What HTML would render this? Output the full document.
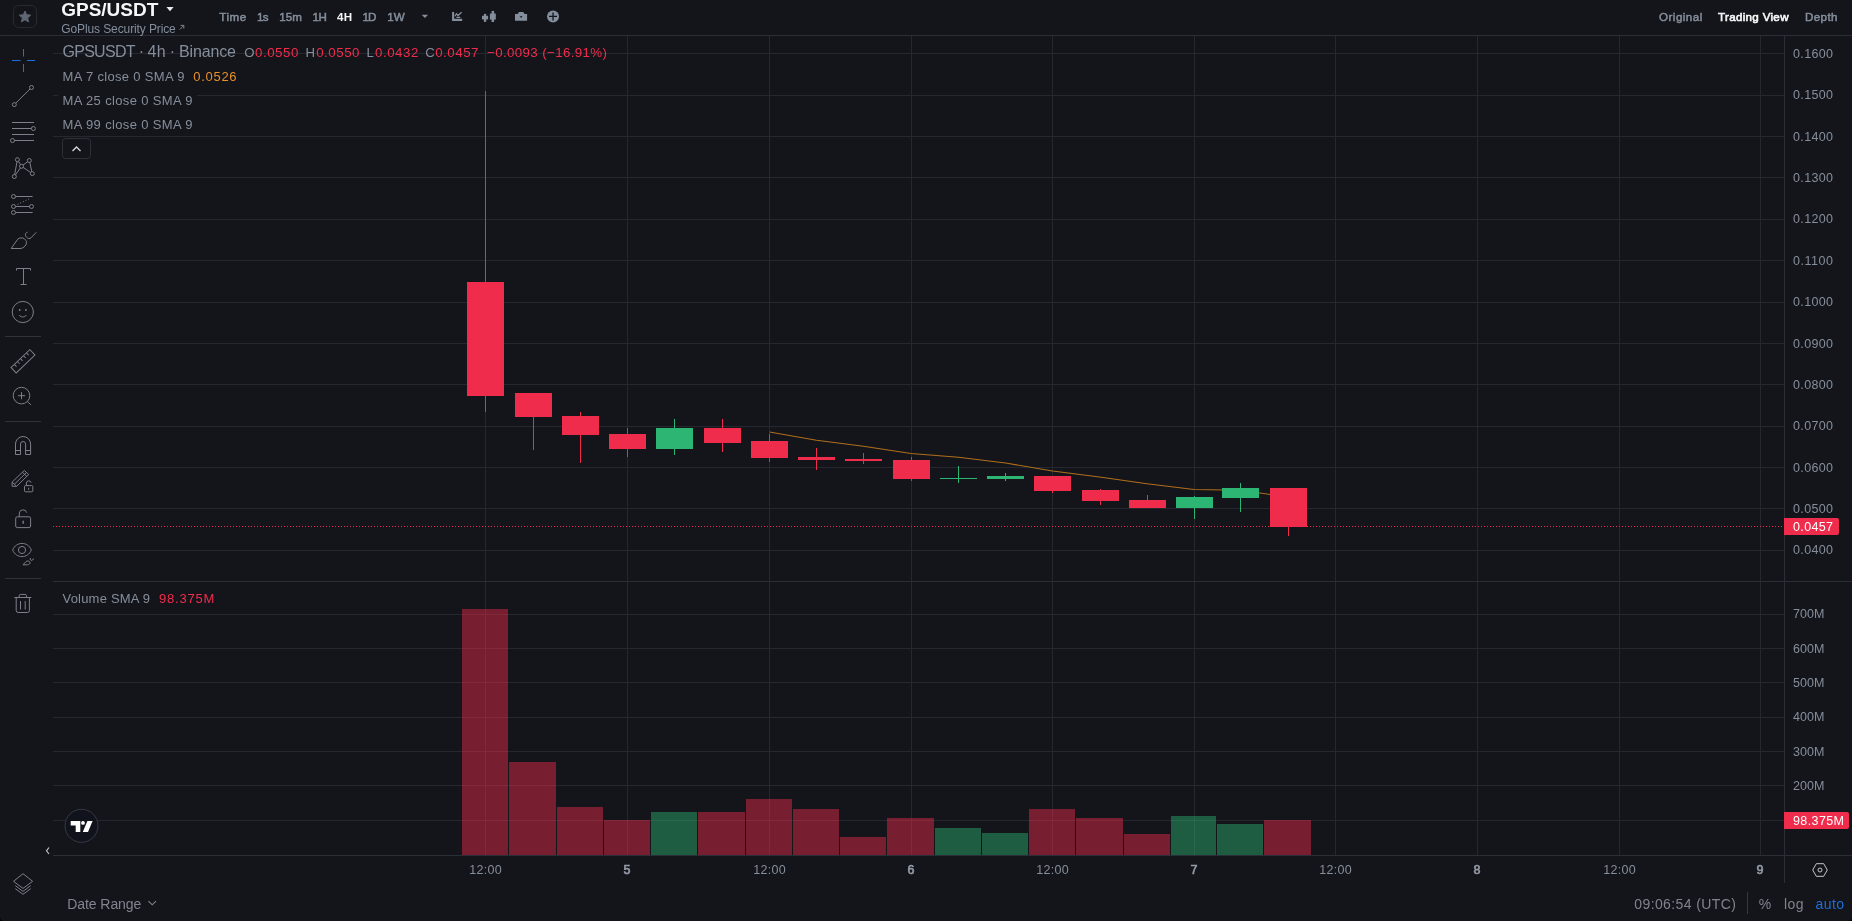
<!DOCTYPE html>
<html lang="en"><head><meta charset="utf-8"><title>GPS/USDT</title>
<style>
html,body{margin:0;padding:0;background:#000;}
body{width:1852px;height:921px;overflow:hidden;}
#wrap{position:absolute;left:0;top:0;width:1852px;height:921px;background:#14151a;border-radius:0 0 4px 4px;overflow:hidden;}
svg{position:absolute;left:0;top:0;display:block;will-change:transform;}
svg text{font-family:"Liberation Sans", sans-serif;white-space:pre;}
</style></head><body><div id="wrap">
<svg width="1852" height="921" viewBox="0 0 1852 921" shape-rendering="auto">
<g id="chart" shape-rendering="crispEdges">
<rect x="53" y="53" width="1732" height="1" fill="#25282f" />
<rect x="53" y="95" width="1732" height="1" fill="#25282f" />
<rect x="53" y="136" width="1732" height="1" fill="#25282f" />
<rect x="53" y="177" width="1732" height="1" fill="#25282f" />
<rect x="53" y="219" width="1732" height="1" fill="#25282f" />
<rect x="53" y="260" width="1732" height="1" fill="#25282f" />
<rect x="53" y="302" width="1732" height="1" fill="#25282f" />
<rect x="53" y="343" width="1732" height="1" fill="#25282f" />
<rect x="53" y="384" width="1732" height="1" fill="#25282f" />
<rect x="53" y="426" width="1732" height="1" fill="#25282f" />
<rect x="53" y="467" width="1732" height="1" fill="#25282f" />
<rect x="53" y="508" width="1732" height="1" fill="#25282f" />
<rect x="53" y="550" width="1732" height="1" fill="#25282f" />
<rect x="53" y="614" width="1732" height="1" fill="#25282f" />
<rect x="53" y="648" width="1732" height="1" fill="#25282f" />
<rect x="53" y="682" width="1732" height="1" fill="#25282f" />
<rect x="53" y="717" width="1732" height="1" fill="#25282f" />
<rect x="53" y="751" width="1732" height="1" fill="#25282f" />
<rect x="53" y="785" width="1732" height="1" fill="#25282f" />
<rect x="53" y="820" width="1732" height="1" fill="#25282f" />
<rect x="485" y="36" width="1" height="819" fill="#25282f" />
<rect x="627" y="36" width="1" height="819" fill="#25282f" />
<rect x="769" y="36" width="1" height="819" fill="#25282f" />
<rect x="911" y="36" width="1" height="819" fill="#25282f" />
<rect x="1052" y="36" width="1" height="819" fill="#25282f" />
<rect x="1194" y="36" width="1" height="819" fill="#25282f" />
<rect x="1335" y="36" width="1" height="819" fill="#25282f" />
<rect x="1477" y="36" width="1" height="819" fill="#25282f" />
<rect x="1619" y="36" width="1" height="819" fill="#25282f" />
<rect x="1760" y="36" width="1" height="819" fill="#25282f" />
<polyline shape-rendering="geometricPrecision" fill="none" stroke="#b06e1c" stroke-width="1.05" points="769.5,432 816.5,440.3 863.5,446.3 911,453.5 958.5,457.3 1005.5,463 1052.5,471 1099.5,477 1147,483.8 1194,489.5 1241,490.3 1288.5,497"/>
<line x1="53" y1="526.5" x2="1784" y2="526.5" stroke="#F02C4C" stroke-width="1" stroke-dasharray="1 2"/>
<rect x="485" y="91" width="1" height="321" fill="#F02C4C" />
<rect x="467" y="282" width="37" height="114" fill="#F02C4C" />
<rect x="533" y="393" width="1" height="57" fill="#F02C4C" />
<rect x="515" y="393" width="37" height="24" fill="#F02C4C" />
<rect x="580" y="412" width="1" height="51" fill="#F02C4C" />
<rect x="562" y="416" width="37" height="19" fill="#F02C4C" />
<rect x="627" y="428" width="1" height="29" fill="#F02C4C" />
<rect x="609" y="434" width="37" height="15" fill="#F02C4C" />
<rect x="674" y="419" width="1" height="36" fill="#2DB573" />
<rect x="656" y="428" width="37" height="21" fill="#2DB573" />
<rect x="722" y="419" width="1" height="33" fill="#F02C4C" />
<rect x="704" y="428" width="37" height="15" fill="#F02C4C" />
<rect x="769" y="434" width="1" height="28" fill="#F02C4C" />
<rect x="751" y="441" width="37" height="17" fill="#F02C4C" />
<rect x="816" y="448" width="1" height="22" fill="#F02C4C" />
<rect x="798" y="457" width="37" height="3" fill="#F02C4C" />
<rect x="863" y="453" width="1" height="11" fill="#F02C4C" />
<rect x="845" y="459" width="37" height="2" fill="#F02C4C" />
<rect x="911" y="457" width="1" height="24" fill="#F02C4C" />
<rect x="893" y="460" width="37" height="19" fill="#F02C4C" />
<rect x="958" y="466" width="1" height="17" fill="#2DB573" />
<rect x="940" y="478" width="37" height="1" fill="#2DB573" />
<rect x="1005" y="473" width="1" height="8" fill="#2DB573" />
<rect x="987" y="476" width="37" height="3" fill="#2DB573" />
<rect x="1052" y="476" width="1" height="17" fill="#F02C4C" />
<rect x="1034" y="476" width="37" height="15" fill="#F02C4C" />
<rect x="1100" y="489" width="1" height="16" fill="#F02C4C" />
<rect x="1082" y="490" width="37" height="11" fill="#F02C4C" />
<rect x="1147" y="495" width="1" height="13" fill="#F02C4C" />
<rect x="1129" y="500" width="37" height="8" fill="#F02C4C" />
<rect x="1194" y="496" width="1" height="23" fill="#2DB573" />
<rect x="1176" y="497" width="37" height="11" fill="#2DB573" />
<rect x="1240" y="483" width="1" height="29" fill="#2DB573" />
<rect x="1222" y="488" width="37" height="10" fill="#2DB573" />
<rect x="1288" y="488" width="1" height="48" fill="#F02C4C" />
<rect x="1270" y="488" width="37" height="39" fill="#F02C4C" />
<rect x="462" y="609" width="46" height="246" fill="#F02C4C" fill-opacity="0.45"/>
<rect x="509" y="762" width="47" height="93" fill="#F02C4C" fill-opacity="0.45"/>
<rect x="557" y="807" width="46" height="48" fill="#F02C4C" fill-opacity="0.45"/>
<rect x="604" y="820" width="46" height="35" fill="#F02C4C" fill-opacity="0.45"/>
<rect x="651" y="812" width="46" height="43" fill="#2DB573" fill-opacity="0.45"/>
<rect x="698" y="812" width="47" height="43" fill="#F02C4C" fill-opacity="0.45"/>
<rect x="746" y="799" width="46" height="56" fill="#F02C4C" fill-opacity="0.45"/>
<rect x="793" y="809" width="46" height="46" fill="#F02C4C" fill-opacity="0.45"/>
<rect x="840" y="837" width="46" height="18" fill="#F02C4C" fill-opacity="0.45"/>
<rect x="887" y="818" width="47" height="37" fill="#F02C4C" fill-opacity="0.45"/>
<rect x="935" y="828" width="46" height="27" fill="#2DB573" fill-opacity="0.45"/>
<rect x="982" y="833" width="46" height="22" fill="#2DB573" fill-opacity="0.45"/>
<rect x="1029" y="809" width="46" height="46" fill="#F02C4C" fill-opacity="0.45"/>
<rect x="1076" y="818" width="47" height="37" fill="#F02C4C" fill-opacity="0.45"/>
<rect x="1124" y="834" width="46" height="21" fill="#F02C4C" fill-opacity="0.45"/>
<rect x="1171" y="816" width="45" height="39" fill="#2DB573" fill-opacity="0.45"/>
<rect x="1217" y="824" width="46" height="31" fill="#2DB573" fill-opacity="0.45"/>
<rect x="1264" y="820" width="47" height="35" fill="#F02C4C" fill-opacity="0.45"/>
</g>
<g id="axes">
<rect x="0" y="35" width="1852" height="1" fill="#2a2e36" />
<rect x="53" y="581" width="1799" height="1" fill="#2a2e36" />
<rect x="53" y="855" width="1799" height="1" fill="#2a2e36" />
<rect x="1784" y="36" width="1" height="847" fill="#2a2e36" />
<text x="1793" y="57.9" font-size="12.5" fill="#858e9b" font-weight="400" text-anchor="start" textLength="40" lengthAdjust="spacing" >0.1600</text>
<text x="1793" y="99.3" font-size="12.5" fill="#858e9b" font-weight="400" text-anchor="start" textLength="40" lengthAdjust="spacing" >0.1500</text>
<text x="1793" y="140.6" font-size="12.5" fill="#858e9b" font-weight="400" text-anchor="start" textLength="40" lengthAdjust="spacing" >0.1400</text>
<text x="1793" y="182.0" font-size="12.5" fill="#858e9b" font-weight="400" text-anchor="start" textLength="40" lengthAdjust="spacing" >0.1300</text>
<text x="1793" y="223.4" font-size="12.5" fill="#858e9b" font-weight="400" text-anchor="start" textLength="40" lengthAdjust="spacing" >0.1200</text>
<text x="1793" y="264.8" font-size="12.5" fill="#858e9b" font-weight="400" text-anchor="start" textLength="40" lengthAdjust="spacing" >0.1100</text>
<text x="1793" y="306.1" font-size="12.5" fill="#858e9b" font-weight="400" text-anchor="start" textLength="40" lengthAdjust="spacing" >0.1000</text>
<text x="1793" y="347.5" font-size="12.5" fill="#858e9b" font-weight="400" text-anchor="start" textLength="40" lengthAdjust="spacing" >0.0900</text>
<text x="1793" y="388.9" font-size="12.5" fill="#858e9b" font-weight="400" text-anchor="start" textLength="40" lengthAdjust="spacing" >0.0800</text>
<text x="1793" y="430.2" font-size="12.5" fill="#858e9b" font-weight="400" text-anchor="start" textLength="40" lengthAdjust="spacing" >0.0700</text>
<text x="1793" y="471.6" font-size="12.5" fill="#858e9b" font-weight="400" text-anchor="start" textLength="40" lengthAdjust="spacing" >0.0600</text>
<text x="1793" y="513.0" font-size="12.5" fill="#858e9b" font-weight="400" text-anchor="start" textLength="40" lengthAdjust="spacing" >0.0500</text>
<text x="1793" y="554.3" font-size="12.5" fill="#858e9b" font-weight="400" text-anchor="start" textLength="40" lengthAdjust="spacing" >0.0400</text>
<text x="1793" y="618.2" font-size="12.5" fill="#858e9b" font-weight="400" text-anchor="start" textLength="31.5" lengthAdjust="spacing" >700M</text>
<text x="1793" y="652.6" font-size="12.5" fill="#858e9b" font-weight="400" text-anchor="start" textLength="31.5" lengthAdjust="spacing" >600M</text>
<text x="1793" y="687.0" font-size="12.5" fill="#858e9b" font-weight="400" text-anchor="start" textLength="31.5" lengthAdjust="spacing" >500M</text>
<text x="1793" y="721.4" font-size="12.5" fill="#858e9b" font-weight="400" text-anchor="start" textLength="31.5" lengthAdjust="spacing" >400M</text>
<text x="1793" y="755.8" font-size="12.5" fill="#858e9b" font-weight="400" text-anchor="start" textLength="31.5" lengthAdjust="spacing" >300M</text>
<text x="1793" y="790.1" font-size="12.5" fill="#858e9b" font-weight="400" text-anchor="start" textLength="31.5" lengthAdjust="spacing" >200M</text>
<path d="M1784 518h53a2 2 0 0 1 2 2v13a2 2 0 0 1 -2 2h-53z" fill="#F02C4C"/>
<text x="1793" y="531" font-size="12.5" fill="#ffffff" font-weight="400" text-anchor="start" textLength="40" lengthAdjust="spacing" >0.0457</text>
<path d="M1784 812h63a2 2 0 0 1 2 2v13a2 2 0 0 1 -2 2h-63z" fill="#F02C4C"/>
<text x="1793" y="825" font-size="12.5" fill="#ffffff" font-weight="400" text-anchor="start" textLength="51" lengthAdjust="spacing" >98.375M</text>
<text x="485.5" y="873.9" font-size="12.5" fill="#858e9b" font-weight="400" text-anchor="middle" textLength="32.5" lengthAdjust="spacing" >12:00</text>
<text x="627" y="873.9" font-size="12.5" fill="#959ca9" font-weight="400" text-anchor="middle" stroke="#959ca9" stroke-width="0.6">5</text>
<text x="769.5" y="873.9" font-size="12.5" fill="#858e9b" font-weight="400" text-anchor="middle" textLength="32.5" lengthAdjust="spacing" >12:00</text>
<text x="911" y="873.9" font-size="12.5" fill="#959ca9" font-weight="400" text-anchor="middle" stroke="#959ca9" stroke-width="0.6">6</text>
<text x="1052.5" y="873.9" font-size="12.5" fill="#858e9b" font-weight="400" text-anchor="middle" textLength="32.5" lengthAdjust="spacing" >12:00</text>
<text x="1194" y="873.9" font-size="12.5" fill="#959ca9" font-weight="400" text-anchor="middle" stroke="#959ca9" stroke-width="0.6">7</text>
<text x="1335.5" y="873.9" font-size="12.5" fill="#858e9b" font-weight="400" text-anchor="middle" textLength="32.5" lengthAdjust="spacing" >12:00</text>
<text x="1477" y="873.9" font-size="12.5" fill="#959ca9" font-weight="400" text-anchor="middle" stroke="#959ca9" stroke-width="0.6">8</text>
<text x="1619.5" y="873.9" font-size="12.5" fill="#858e9b" font-weight="400" text-anchor="middle" textLength="32.5" lengthAdjust="spacing" >12:00</text>
<text x="1760" y="873.9" font-size="12.5" fill="#959ca9" font-weight="400" text-anchor="middle" stroke="#959ca9" stroke-width="0.6">9</text>
</g>
<g id="legend">
<text x="62.4" y="57.4" font-size="16" fill="#858e9b" font-weight="400" text-anchor="start" textLength="73.2" lengthAdjust="spacing" >GPSUSDT</text>
<text x="141.4" y="57.4" font-size="16" fill="#858e9b" font-weight="400" text-anchor="middle" >·</text>
<text x="147.6" y="57.4" font-size="16" fill="#858e9b" font-weight="400" text-anchor="start" textLength="18" lengthAdjust="spacing" >4h</text>
<text x="172.5" y="57.4" font-size="16" fill="#858e9b" font-weight="400" text-anchor="middle" >·</text>
<text x="179" y="57.4" font-size="16" fill="#858e9b" font-weight="400" text-anchor="start" textLength="57" lengthAdjust="spacing" >Binance</text>
<text x="244.3" y="57.4" font-size="13.2" fill="#858e9b" font-weight="400" text-anchor="start" >O</text>
<text x="255" y="57.4" font-size="13.3" fill="#F02C4C" font-weight="400" text-anchor="start" textLength="43.3" lengthAdjust="spacing" >0.0550</text>
<text x="305.5" y="57.4" font-size="13.2" fill="#858e9b" font-weight="400" text-anchor="start" >H</text>
<text x="316.2" y="57.4" font-size="13.3" fill="#F02C4C" font-weight="400" text-anchor="start" textLength="43.3" lengthAdjust="spacing" >0.0550</text>
<text x="366.5" y="57.4" font-size="13.2" fill="#858e9b" font-weight="400" text-anchor="start" >L</text>
<text x="375" y="57.4" font-size="13.3" fill="#F02C4C" font-weight="400" text-anchor="start" textLength="43.3" lengthAdjust="spacing" >0.0432</text>
<text x="425.3" y="57.4" font-size="13.2" fill="#858e9b" font-weight="400" text-anchor="start" >C</text>
<text x="435.2" y="57.4" font-size="13.3" fill="#F02C4C" font-weight="400" text-anchor="start" textLength="43.3" lengthAdjust="spacing" >0.0457</text>
<text x="487" y="57.4" font-size="13.3" fill="#F02C4C" font-weight="400" text-anchor="start" textLength="120" lengthAdjust="spacing" >−0.0093 (−16.91%)</text>
<text x="62.5" y="81.2" font-size="13" fill="#858e9b" font-weight="400" text-anchor="start" textLength="122" lengthAdjust="spacing" >MA 7 close 0 SMA 9</text>
<text x="193.3" y="81.2" font-size="13" fill="#e8902a" font-weight="400" text-anchor="start" textLength="43.3" lengthAdjust="spacing" >0.0526</text>
<rect x="58" y="93" width="139" height="5" fill="#14151a" />
<text x="62.5" y="105.1" font-size="13" fill="#858e9b" font-weight="400" text-anchor="start" textLength="130" lengthAdjust="spacing" >MA 25 close 0 SMA 9</text>
<text x="62.5" y="129" font-size="13" fill="#858e9b" font-weight="400" text-anchor="start" textLength="130" lengthAdjust="spacing" >MA 99 close 0 SMA 9</text>
<rect x="62.5" y="138.5" width="28" height="20" rx="3" fill="#14151a" stroke="#2c3038"/>
<path d="M72.5 151 L76.5 147 L80.5 151" fill="none" stroke="#d5d8de" stroke-width="1.3"/>
<text x="62.5" y="602.8" font-size="13" fill="#858e9b" font-weight="400" text-anchor="start" textLength="87.5" lengthAdjust="spacing" >Volume SMA 9</text>
<text x="159" y="602.8" font-size="13" fill="#F02C4C" font-weight="400" text-anchor="start" textLength="55.3" lengthAdjust="spacing" >98.375M</text>
<circle cx="81.5" cy="825.8" r="16.5" fill="#10131c" stroke="#363a46" stroke-width="1"/>
<g fill="#ffffff"><path d="M70.7 821h9.6v11h-4.6v-6.4h-5z"/><circle cx="83" cy="822.9" r="1.9"/><path d="M87.4 821h5.2l-4.6 11h-5.2z"/></g>
<path d="M49 847.5 L46.5 850.8 L49 854" fill="none" stroke="#c5c8cf" stroke-width="1.1"/>
</g>
<g id="header">
<rect x="13.5" y="5.5" width="23" height="22" rx="5" fill="none" stroke="#262a32"/>
<polygon points="25.00,11.00 26.65,14.73 30.71,15.15 27.66,17.87 28.53,21.85 25.00,19.80 21.47,21.85 22.34,17.87 19.29,15.15 23.35,14.73" fill="#5e6673" stroke="#5e6673" stroke-width="1" stroke-linejoin="round"/>
<text x="61.3" y="16" font-size="19" fill="#f5f6f7" font-weight="700" text-anchor="start" textLength="97" lengthAdjust="spacing" >GPS/USDT</text>
<path d="M166.4 7 h7.2 l-3.6 4.2z" fill="#eaecef"/>
<text x="61.3" y="32.8" font-size="12" fill="#848e9c" font-weight="400" text-anchor="start" textLength="114.5" lengthAdjust="spacing" >GoPlus Security Price</text>
<path d="M179.8 29.6 L183.6 25.6 M180.6 25.4 h3.2 v3.2" fill="none" stroke="#848e9c" stroke-width="0.9"/>
<text x="219.2" y="21.1" font-size="11.6" fill="#848e9c" font-weight="400" text-anchor="start" textLength="27" lengthAdjust="spacing" stroke="#848e9c" stroke-width="0.5">Time</text>
<text x="256.9" y="21.1" font-size="11.6" fill="#848e9c" font-weight="400" text-anchor="start" textLength="11.6" lengthAdjust="spacing" stroke="#848e9c" stroke-width="0.5">1s</text>
<text x="279.3" y="21.1" font-size="11.6" fill="#848e9c" font-weight="400" text-anchor="start" textLength="22.7" lengthAdjust="spacing" stroke="#848e9c" stroke-width="0.5">15m</text>
<text x="312.4" y="21.1" font-size="11.6" fill="#848e9c" font-weight="400" text-anchor="start" textLength="14.4" lengthAdjust="spacing" stroke="#848e9c" stroke-width="0.5">1H</text>
<text x="337" y="21.1" font-size="11.6" fill="#f5f6f7" font-weight="700" text-anchor="start" textLength="15" lengthAdjust="spacing" stroke="#f5f6f7" stroke-width="0">4H</text>
<text x="362.5" y="21.1" font-size="11.6" fill="#848e9c" font-weight="400" text-anchor="start" textLength="13.9" lengthAdjust="spacing" stroke="#848e9c" stroke-width="0.5">1D</text>
<text x="387.3" y="21.1" font-size="11.6" fill="#848e9c" font-weight="400" text-anchor="start" textLength="17.3" lengthAdjust="spacing" stroke="#848e9c" stroke-width="0.5">1W</text>
<path d="M421.7 14.7 h6.4 l-3.2 3.4z" fill="#848e9c"/>
<g fill="none" stroke="#848e9c"><path d="M453.1 11.9 V19.9 H462.2" stroke-width="2.1"/><path d="M454.9 16.2 L456.4 13.7 L458 15.5 L461.6 12.3 M456.4 17.4 H460.3" stroke-width="1.25"/></g>
<g fill="#848e9c"><rect x="482" y="15.8" width="6.1" height="3.6"/><rect x="483.9" y="13.9" width="2.3" height="8"/><rect x="489.9" y="13.5" width="5.9" height="6.1"/><rect x="491.6" y="10.9" width="2.5" height="11.1"/></g>
<path d="M515 14.1 h2.6 l1.4 -2 h4.2 l1.4 2 h2.5 v6.7 h-12.1z M519.6 16.2 l1.5 1.9 l1.5 -1.9z" fill="#848e9c" fill-rule="evenodd"/>
<circle cx="553.05" cy="16.4" r="6" fill="#848e9c"/><path d="M553.05 12.4 v8 M549.05 16.4 h8" stroke="#14151a" stroke-width="1.3"/>
<text x="1659" y="21.1" font-size="11.6" fill="#848e9c" font-weight="400" text-anchor="start" textLength="43.3" lengthAdjust="spacing" stroke="#848e9c" stroke-width="0.5">Original</text>
<text x="1718" y="21.1" font-size="11.6" fill="#f5f6f7" font-weight="400" text-anchor="start" textLength="70.5" lengthAdjust="spacing" stroke="#f5f6f7" stroke-width="0.65">Trading View</text>
<text x="1805" y="21.1" font-size="11.6" fill="#848e9c" font-weight="400" text-anchor="start" textLength="32.5" lengthAdjust="spacing" stroke="#848e9c" stroke-width="0.5">Depth</text>
</g>
<g id="bottom">
<text x="67.3" y="909" font-size="14" fill="#80848f" font-weight="400" text-anchor="start" textLength="74" lengthAdjust="spacing" >Date Range</text>
<path d="M148.4 901.2 l3.8 3.6 l3.8 -3.6" fill="none" stroke="#80848f" stroke-width="1.1"/>
<text x="1634.3" y="909" font-size="14" fill="#80848f" font-weight="400" text-anchor="start" textLength="101.5" lengthAdjust="spacing" >09:06:54 (UTC)</text>
<rect x="1747" y="892" width="1" height="22" fill="#343841" />
<text x="1758.8" y="909" font-size="14" fill="#80848f" font-weight="400" text-anchor="start" >%</text>
<text x="1784" y="909" font-size="14" fill="#80848f" font-weight="400" text-anchor="start" textLength="19.5" lengthAdjust="spacing" >log</text>
<text x="1815.5" y="909" font-size="14" fill="#1e6fd9" font-weight="400" text-anchor="start" textLength="28.5" lengthAdjust="spacing" >auto</text>
<polygon points="1827.30,870.00 1823.65,876.32 1816.35,876.32 1812.70,870.00 1816.35,863.68 1823.65,863.68" fill="none" stroke="#c3c6cd" stroke-width="1"/><circle cx="1820" cy="870" r="2" fill="none" stroke="#c3c6cd" stroke-width="1"/>
</g>
<g id="tools">
<path d="M12 60.5 H20.5 M27 60.5 H35 M23.5 49 V56.5 M23.5 64 V72" stroke="#1e6fd9" stroke-width="1" fill="none"/>
<g fill="none" stroke="#7c808b" stroke-width="1"><circle cx="31.5" cy="87.5" r="2"/><circle cx="14.3" cy="104.6" r="2"/><path d="M15.8 103.1 L30 89"/></g>
<g fill="none" stroke="#7c808b" stroke-width="1"><path d="M12 122.5 H34 M12 128.5 H31.4 M12 134.5 H34 M14.5 140.5 H34"/><circle cx="33.4" cy="128.5" r="2"/><circle cx="12.5" cy="140.5" r="2"/></g>
<g fill="none" stroke="#7c808b" stroke-width="1"><path d="M14.3 176.5 L17.4 159.7 L21.5 166.3 L29.3 160.5 L32.3 173.6 L21.5 166.3 Z"/></g>
<circle cx="17.4" cy="159.7" r="2" fill="#14151a" stroke="#7c808b" stroke-width="1"/>
<circle cx="29.3" cy="160.5" r="2" fill="#14151a" stroke="#7c808b" stroke-width="1"/>
<circle cx="21.5" cy="166.3" r="2" fill="#14151a" stroke="#7c808b" stroke-width="1"/>
<circle cx="32.3" cy="173.6" r="2" fill="#14151a" stroke="#7c808b" stroke-width="1"/>
<circle cx="14.3" cy="176.5" r="2" fill="#14151a" stroke="#7c808b" stroke-width="1"/>
<g fill="none" stroke="#7c808b" stroke-width="1"><path d="M15.5 196.5 H32.6 M15.5 206.5 H29.5 M15.5 212.5 H32.6"/><circle cx="13.5" cy="196.5" r="2"/><circle cx="13.5" cy="206.5" r="2"/><circle cx="31.5" cy="206.5" r="2"/><circle cx="13.5" cy="212.5" r="2"/><path d="M17.5 204.5 L31 198" stroke-dasharray="1 2"/></g>
<g fill="none" stroke="#7c808b" stroke-width="1"><path d="M11.2 248.5 L17.6 239.3 C19 237.6 22.5 237.3 24.6 238.9 C27.2 241 27.2 244.6 24 247 C22.5 248.1 21.5 248.5 20 248.5 Z"/><path d="M27.6 232.2 C25.4 232.6 24.6 235.2 26.4 237 C28 238.8 29.8 239 31 237.8 L36.3 232.3"/></g>
<g fill="none" stroke="#7c808b" stroke-width="1"><path d="M16.5 270.5 V268.5 H30.5 V270.5 M23.5 268.5 V284.5 M20.5 284.5 H26.5"/></g>
<g fill="none" stroke="#7c808b" stroke-width="1"><circle cx="22.8" cy="312" r="10.6"/><path d="M19.2 315 C20.8 317.6 24.8 317.6 26.4 315"/></g><circle cx="19.7" cy="310" r="0.9" fill="#7c808b"/><circle cx="25.9" cy="310" r="0.9" fill="#7c808b"/>
<rect x="5" y="336" width="36" height="1" fill="#2e323b" />
<rect x="5" y="421" width="36" height="1" fill="#2e323b" />
<rect x="5" y="578" width="36" height="1" fill="#2e323b" />
<g fill="none" stroke="#7c808b" stroke-width="1" transform="translate(23 361.3) rotate(-43.7)"><rect x="-13" y="-3.7" width="26" height="7.4"/><path d="M-8.4 -3.7 V-0.6 M-4.2 -3.7 V-0.6 M0 -3.7 V-0.6 M4.2 -3.7 V-0.6 M8.4 -3.7 V-0.6"/></g>
<g fill="none" stroke="#7c808b" stroke-width="1"><circle cx="21.5" cy="395.6" r="8.3"/><path d="M27.4 401.5 L31.1 405 M18 395.7 H25 M21.5 392.2 V399.2"/></g>
<g fill="none" stroke="#7c808b" stroke-width="1"><path d="M15.5 454.5 V444.05 A7.55 7.55 0 0 1 30.6 444.05 V454.5 H25.6 V444.05 A2.55 2.55 0 0 0 20.5 444.05 V454.5 Z M15.5 450.5 H20.5 M25.6 450.5 H30.6"/></g>
<g fill="none" stroke="#7c808b" stroke-width="1"><path d="M12.1 486.3 V482.1 L24.3 470.5 L28.7 474.5 L16.6 486.3 Z M12.1 482.1 L16.6 486.3 M14.4 484.2 L26.5 472.5 M22.4 472.3 L26.8 476.3"/><rect x="24.5" y="485.6" width="8.3" height="6.2" rx="1"/><path d="M26.4 485.6 V483 A2.4 2.4 0 0 1 31.1 482.6"/><path d="M28.6 487.8 V489.6"/></g>
<g fill="none" stroke="#7c808b" stroke-width="1"><rect x="15.7" y="516.8" width="14.9" height="10.8" rx="1.6"/><path d="M19.3 516.8 V512.9 A3.8 3.8 0 0 1 26.7 512.6"/><path d="M23.2 520.8 V523.8" stroke-width="1.4"/></g>
<g fill="none" stroke="#7c808b" stroke-width="1"><path d="M12.7 550 C16 541.2 28 541.2 31.3 550 C28 558.8 16 558.8 12.7 550 Z"/><circle cx="22" cy="550" r="3.6"/><path d="M23 564.8 L26 561.6 C27.2 560.6 29.4 560.8 30 562.2 C30.4 563.6 29 564.8 27.4 564.8 Z M30.4 558 C29.8 559.6 30.8 560.8 31.8 560.4 L34 558.6"/></g>
<g fill="none" stroke="#7c808b" stroke-width="1"><path d="M14.3 597.5 H31.3 M19.2 597.5 V595.6 A1.2 1.2 0 0 1 20.4 594.4 H25.2 A1.2 1.2 0 0 1 26.4 595.6 V597.5 M16.2 597.5 V610.5 A2 2 0 0 0 18.2 612.5 H27.4 A2 2 0 0 0 29.4 610.5 V597.5 M20.5 601 V609.5 M25.2 601 V609.5"/></g>
<g fill="none" stroke="#7c808b" stroke-width="1"><path d="M23 873.7 L32.6 881.3 L23 888.4 L13.5 881.3 Z M15.3 885.6 L23 891.4 L30.7 885.6 M15.3 888.7 L23 894.3 L30.7 888.7"/></g>
</g>
</svg>
</div></body></html>
